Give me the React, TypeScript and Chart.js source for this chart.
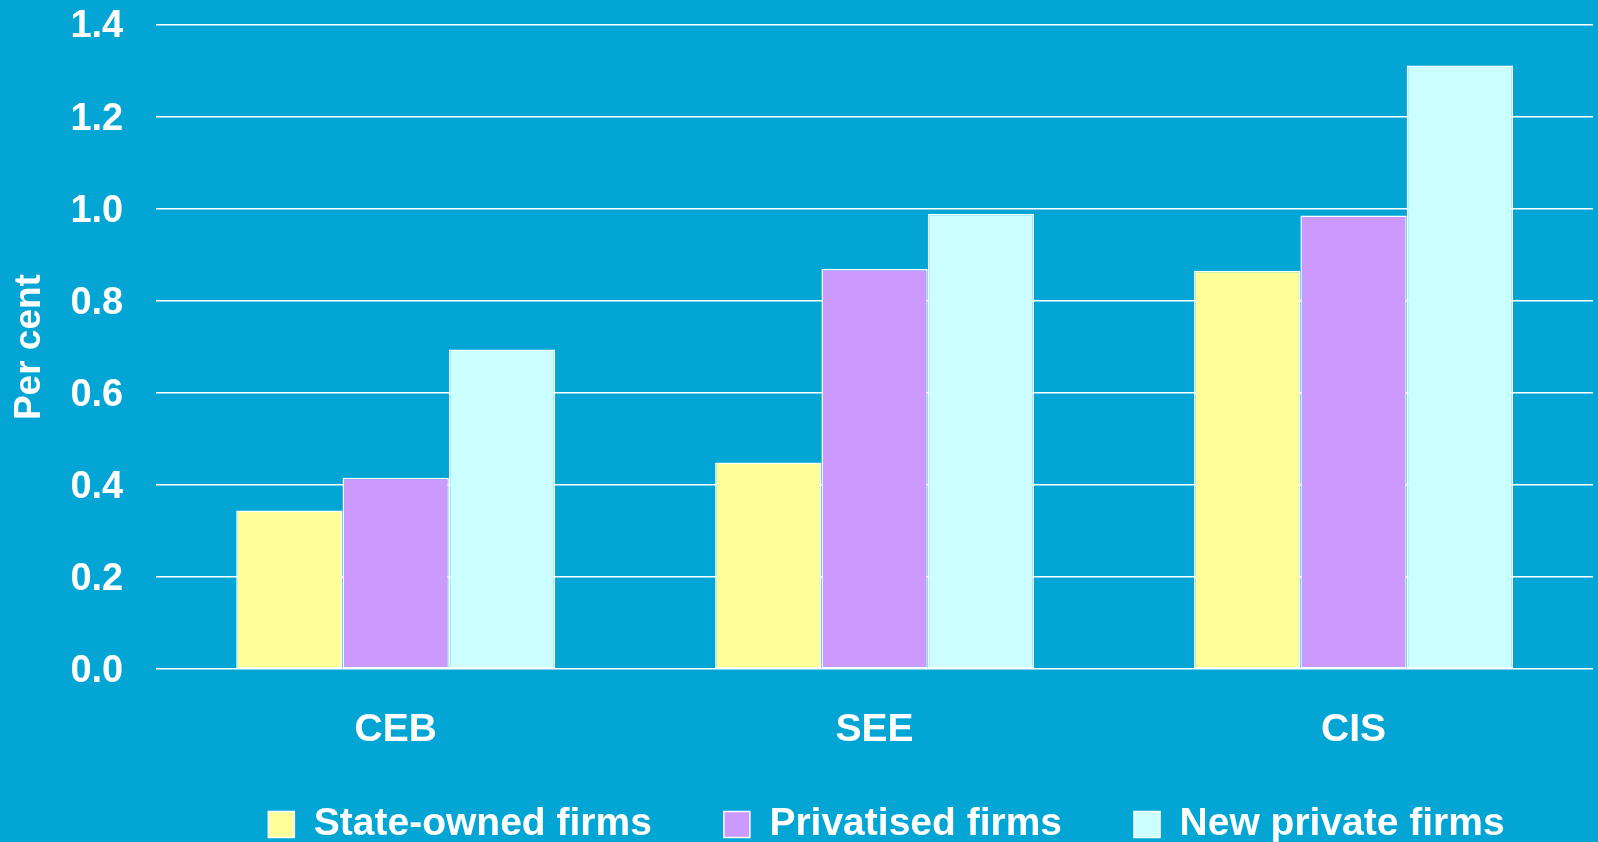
import React, { useEffect, useRef } from "react";
import { Chart, registerables } from "chart.js";

Chart.register(...registerables);

const categories = ["CEB", "SEE", "CIS"];
const seriesNames = ["State-owned firms", "Privatised firms", "New private firms"];
const stateOwned = [0.345, 0.449, 0.866];
const privatised = [0.416, 0.870, 0.986];
const newPrivate = [0.695, 0.990, 1.312];
const seriesColors = ["#FFFF99", "#CC99FF", "#CCFFFF"];
const yMin = 0;
const yMax = 1.4;
const yStep = 0.2;
const yTitle = "Per cent";

const BG = "#02A5D3";
const FONT = "'Liberation Sans', Arial, Helvetica, sans-serif";
const Y_TICK_PAD = 33;
const X_TICK_PAD = 38;

export default function App() {
  const canvasRef = useRef<HTMLCanvasElement | null>(null);

  useEffect(() => {
    const canvas = canvasRef.current;
    if (!canvas) return;
    const values = [stateOwned, privatised, newPrivate];
    const legendShift = {
      id: "legendShift",
      afterLayout(chart: any) {
        const l = chart.legend;
        if (!l) return;
        const dx = 90;
        const dy = -21;
        l.left += dx;
        l.right += dx;
        l.top += dy;
      },
    };
    const chart = new Chart(canvas, {
      type: "bar",
      data: {
        labels: categories,
        datasets: seriesNames.map((name, i) => ({
          label: name,
          data: values[i],
          backgroundColor: seriesColors[i],
          borderColor: "#FFFFFF",
          borderWidth: 1.5,
          borderSkipped: false,
          categoryPercentage: 0.666,
          barPercentage: 1,
        })),
      },
      options: {
        responsive: false,
        animation: false,
        events: [],
        layout: { padding: { top: 25, right: 5, left: 0, bottom: 0 } },
        plugins: {
          tooltip: { enabled: false },
          title: { display: false },
          legend: {
            display: true,
            position: "bottom",
            maxHeight: 88,
            labels: {
              color: "#FFFFFF",
              boxWidth: 26,
              boxHeight: 26,
              padding: 72,
              font: { family: FONT, size: 39, weight: "bold" },
            },
          },
        },
        scales: {
          x: {
            grid: { display: false, drawTicks: false },
            border: { display: false },
            ticks: {
              color: "#FFFFFF",
              padding: X_TICK_PAD,
              font: { family: FONT, size: 39, weight: "bold" },
            },
            afterFit: (s: any) => {
              s.height -= X_TICK_PAD;
            },
          },
          y: {
            min: yMin,
            max: yMax,
            grid: { color: "#FFFFFF", lineWidth: 1.5, drawTicks: false },
            border: { display: false },
            ticks: {
              stepSize: yStep,
              color: "#FFFFFF",
              padding: Y_TICK_PAD,
              labelOffset: 2,
              font: { family: FONT, size: 38, weight: "bold" },
              callback: (v: any) => Number(v).toFixed(1),
            },
            title: {
              display: true,
              text: yTitle,
              color: "#FFFFFF",
              padding: { top: 8, bottom: 18 },
              font: { family: FONT, size: 37, weight: "bold" },
            },
            afterFit: (s: any) => {
              s.width -= Y_TICK_PAD;
              s.paddingTop = Math.max(s.paddingTop - Y_TICK_PAD, 0);
              s.paddingBottom = Math.max(s.paddingBottom - Y_TICK_PAD, 0);
            },
          },
        },
      },
      plugins: [legendShift],
    } as any);
    return () => chart.destroy();
  }, []);

  return (
    <div
      style={{
        position: "absolute",
        left: 0,
        top: 0,
        width: 1598,
        height: 842,
        background: BG,
        overflow: "hidden",
      }}
    >
      <canvas ref={canvasRef} width={1598} height={842} style={{ display: "block" }} />
    </div>
  );
}
